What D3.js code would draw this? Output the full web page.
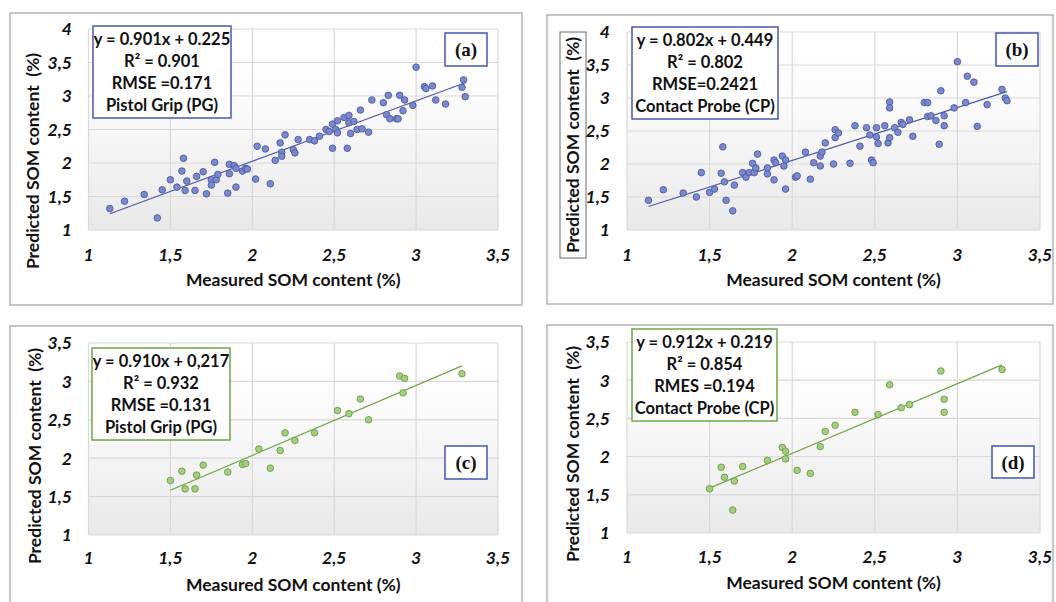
<!DOCTYPE html>
<html>
<head>
<meta charset="utf-8">
<script src="https://cdn.jsdelivr.net/npm/d3@7"></script>
<style>
  body { margin: 0; background: #fff; }
  svg { display: block; }
  text { font-family: Lato, "Open Sans", sans-serif; fill: #111; }
</style>
</head>
<body>
<svg id="chart"></svg>
<script>
// ---- data ----
const aX = [1.13,1.22,1.34,1.42,1.45,1.50,1.54,1.57,1.58,1.59,1.60,1.65,1.66,1.70,1.72,1.75,1.75,1.77,1.78,1.79,1.85,1.86,1.86,1.89,1.90,1.90,1.94,1.96,1.97,2.02,2.03,2.08,2.11,2.14,2.17,2.18,2.18,2.20,2.25,2.26,2.28,2.35,2.38,2.41,2.45,2.47,2.49,2.49,2.51,2.52,2.52,2.56,2.58,2.59,2.59,2.60,2.62,2.64,2.66,2.67,2.71,2.73,2.80,2.82,2.83,2.84,2.88,2.89,2.90,2.92,2.93,2.98,3.00,3.05,3.06,3.10,3.12,3.18,3.28,3.29,3.30];
const aY = [1.32,1.43,1.53,1.18,1.60,1.75,1.64,1.88,2.07,1.59,1.73,1.59,1.80,1.87,1.54,1.75,1.67,2.01,1.75,1.83,1.55,1.98,1.84,1.96,1.64,1.92,1.88,1.92,1.91,1.76,2.25,2.21,1.69,2.04,2.30,2.16,2.10,2.42,2.20,2.15,2.35,2.35,2.33,2.40,2.50,2.47,2.22,2.58,2.50,2.63,2.45,2.68,2.22,2.71,2.60,2.44,2.62,2.50,2.79,2.51,2.46,2.94,2.90,2.72,3.01,2.66,2.66,2.66,3.01,2.78,2.94,2.86,3.43,3.14,3.11,3.15,2.94,2.88,3.13,3.24,2.99];

const bX = [1.13,1.22,1.34,1.42,1.45,1.50,1.53,1.57,1.58,1.59,1.60,1.64,1.65,1.70,1.72,1.74,1.76,1.77,1.78,1.79,1.85,1.85,1.89,1.89,1.90,1.94,1.95,1.96,1.96,2.02,2.03,2.08,2.11,2.13,2.17,2.17,2.18,2.20,2.25,2.26,2.26,2.28,2.35,2.38,2.41,2.45,2.47,2.48,2.49,2.51,2.51,2.52,2.56,2.58,2.59,2.59,2.59,2.62,2.64,2.66,2.67,2.71,2.73,2.80,2.82,2.82,2.84,2.87,2.89,2.90,2.92,2.92,2.98,3.00,3.05,3.06,3.10,3.12,3.18,3.27,3.29,3.30];
const bY = [1.45,1.61,1.56,1.50,1.87,1.57,1.62,1.86,2.26,1.73,1.45,1.29,1.68,1.87,1.80,1.87,2.01,1.87,1.94,2.15,1.85,1.94,2.06,1.76,2.02,2.12,1.97,2.06,1.62,1.80,1.82,2.18,1.77,2.02,1.97,2.12,2.18,2.32,2.00,2.40,2.52,2.47,2.01,2.58,2.27,2.55,2.44,2.06,2.02,2.41,2.55,2.31,2.58,2.32,2.94,2.85,2.40,2.55,2.48,2.63,2.60,2.67,2.42,2.93,2.93,2.72,2.73,2.66,2.30,3.11,2.73,2.58,2.85,3.55,2.93,3.33,3.24,2.57,2.90,3.13,3.00,2.96];

const cX = [1.50,1.57,1.59,1.65,1.66,1.70,1.85,1.94,1.96,2.04,2.11,2.17,2.20,2.26,2.38,2.52,2.59,2.66,2.71,2.90,2.93,2.92,3.28];
const cY = [1.71,1.83,1.60,1.60,1.78,1.91,1.82,1.92,1.93,2.12,1.87,2.10,2.33,2.23,2.33,2.62,2.58,2.77,2.50,3.07,3.04,2.85,3.10];

const dX = [1.50,1.57,1.59,1.64,1.65,1.70,1.85,1.94,1.96,1.96,2.03,2.11,2.17,2.20,2.26,2.38,2.52,2.59,2.66,2.71,2.90,2.92,2.92,3.27];
const dY = [1.58,1.86,1.73,1.30,1.68,1.87,1.95,2.12,2.07,1.97,1.82,1.78,2.13,2.33,2.41,2.58,2.55,2.94,2.64,2.68,3.12,2.75,2.58,3.14];

const slopes = [0.901, 0.802, 0.910, 0.912];
const intercepts = [0.225, 0.449, 0.217, 0.219];

const xTicks = [1, 1.5, 2, 2.5, 3, 3.5];
const yTicksTop = [1, 1.5, 2, 2.5, 3, 3.5, 4];
const yTicksBottom = [1, 1.5, 2, 2.5, 3, 3.5];

const legendA = ["y = 0.901x + 0.225", "R² = 0.901", "RMSE =0.171", "Pistol Grip (PG)"];
const legendB = ["y = 0.802x + 0.449", "R² = 0.802", "RMSE=0.2421", "Contact Probe (CP)"];
const legendC = ["y = 0.910x + 0,217", "R² = 0.932", "RMSE =0.131", "Pistol Grip (PG)"];
const legendD = ["y = 0.912x + 0.219", "R² = 0.854", "RMES =0.194", "Contact Probe (CP)"];
const panelLabels = ["(a)", "(b)", "(c)", "(d)"];

const xTitle = "Measured SOM content (%)";
const yTitle = "Predicted SOM content  (%)";

// ---- layout ----
const width = 1056, height = 602;
const blue = { fill: "#7c88cc", stroke: "#4b5aa6", line: "#4a5aa8", box: "#4a5aa8" };
const green = { fill: "#a4cc84", stroke: "#6c9e42", line: "#6fa548", box: "#6fa548" };

const panels = [
  { xs: aX, ys: aY, k: 0, legend: legendA, col: blue, yTicks: yTicksTop,
    frame: [10, 13, 512, 292], plot: [88.5, 29, 498, 230],
    leg: [93, 26, 138, 92], lab: [445, 33, 42, 33], yt: [33, 161], tickR: 72,
    xTickY: 261, xTitleY: 286, yBox: null },
  { xs: bX, ys: bY, k: 1, legend: legendB, col: blue, yTicks: yTicksTop,
    frame: [547, 15, 506, 289], plot: [627, 32, 1040, 230],
    leg: [632, 27, 146, 92], lab: [996, 33, 42, 33], yt: [573, 145], tickR: 610,
    xTickY: 261, xTitleY: 286, yBox: [560, 32, 26, 226] },
  { xs: cX, ys: cY, k: 2, legend: legendC, col: green, yTicks: yTicksBottom,
    frame: [10, 326, 512, 300], plot: [88.5, 343, 498, 535],
    leg: [92, 348, 138, 92], lab: [445, 446, 42, 33], yt: [35, 456], tickR: 72,
    xTickY: 564, xTitleY: 591, yBox: null },
  { xs: dX, ys: dY, k: 3, legend: legendD, col: green, yTicks: yTicksBottom,
    frame: [547, 325, 506, 300], plot: [627, 342, 1040, 533],
    leg: [632, 329, 145, 92], lab: [992, 446, 42, 32], yt: [573, 454], tickR: 610,
    xTickY: 563, xTitleY: 589, yBox: null }
];

const svg = d3.select("#chart").attr("width", width).attr("height", height);

// plot area gradient
const grad = svg.append("defs").append("linearGradient")
  .attr("id", "bg").attr("x1", 0).attr("y1", 0).attr("x2", 0).attr("y2", 1);
grad.append("stop").attr("offset", "0%").attr("stop-color", "#ffffff");
grad.append("stop").attr("offset", "35%").attr("stop-color", "#fbfbfb");
grad.append("stop").attr("offset", "100%").attr("stop-color", "#e9e9e9");

panels.forEach((p, i) => {
  const g = svg.append("g");
  const [fx, fy, fw, fh] = p.frame;
  g.append("rect").attr("x", fx).attr("y", fy).attr("width", fw).attr("height", fh)
    .attr("fill", "#fff").attr("stroke", "#a9a9a9").attr("stroke-width", 1.3);

  const [l, t, r, b] = p.plot;
  const x = d3.scaleLinear().domain([1, 3.5]).range([l, r]);
  const y = d3.scaleLinear().domain(d3.extent(p.yTicks)).range([b, t]);

  g.append("rect").attr("x", l).attr("y", t).attr("width", r - l).attr("height", b - t)
    .attr("fill", "url(#bg)");

  // grid
  g.selectAll(".gx").data(xTicks).enter().append("line")
    .attr("x1", d => x(d)).attr("x2", d => x(d)).attr("y1", t).attr("y2", b)
    .attr("stroke", "#d9d9d9").attr("stroke-width", 1.2);
  g.selectAll(".gy").data(p.yTicks).enter().append("line")
    .attr("x1", l).attr("x2", r).attr("y1", d => y(d)).attr("y2", d => y(d))
    .attr("stroke", "#d9d9d9").attr("stroke-width", 1.2);

  // tick labels
  const fmt = d => String(d).replace(".", ",");
  g.selectAll(".tx").data(xTicks).enter().append("text")
    .attr("x", d => x(d)).attr("y", p.xTickY).attr("text-anchor", "middle")
    .attr("font-size", 17.5).attr("font-weight", 700).attr("font-style", "italic")
    .text(fmt);
  g.selectAll(".ty").data(p.yTicks).enter().append("text")
    .attr("x", p.tickR).attr("y", d => y(d)).attr("dy", "0.36em").attr("text-anchor", "end")
    .attr("font-size", 17.5).attr("font-weight", 700).attr("font-style", "italic")
    .text(fmt);

  // axis titles
  g.append("text").attr("x", x(2.25)).attr("y", p.xTitleY).attr("text-anchor", "middle")
    .attr("font-size", 17.5).attr("font-weight", 700).text(xTitle);
  if (p.yBox) {
    g.append("rect").attr("x", p.yBox[0]).attr("y", p.yBox[1])
      .attr("width", p.yBox[2]).attr("height", p.yBox[3])
      .attr("fill", "none").attr("stroke", "#6b6b6b").attr("stroke-width", 1);
  }
  g.append("text")
    .attr("transform", `translate(${p.yt[0]},${p.yt[1]}) rotate(-90)`)
    .attr("text-anchor", "middle").attr("dy", "0.36em")
    .attr("font-size", 17.5).attr("font-weight", 700).attr("xml:space", "preserve")
    .text(yTitle);

  // trend line from the fitted equation over the data range
  const ext = d3.extent(p.xs);
  const fit = ext.map(v => [v, slopes[p.k] * v + intercepts[p.k]]);
  g.append("path").datum(fit)
    .attr("d", d3.line().x(d => x(d[0])).y(d => y(d[1])))
    .attr("fill", "none").attr("stroke", p.col.line).attr("stroke-width", 1.2);

  // points
  g.selectAll(".pt").data(p.xs).enter().append("circle")
    .attr("cx", d => x(d)).attr("cy", (d, j) => y(p.ys[j])).attr("r", 3.3)
    .attr("fill", p.col.fill).attr("stroke", p.col.stroke).attr("stroke-width", 0.9);

  // equation box
  const [lx, ly, lw, lh] = p.leg;
  g.append("rect").attr("x", lx).attr("y", ly).attr("width", lw).attr("height", lh)
    .attr("fill", "#fff").attr("stroke", p.col.box).attr("stroke-width", 1.5);
  g.selectAll(".lg").data(p.legend).enter().append("text")
    .attr("x", lx + lw / 2).attr("y", (d, j) => ly + 13 + j * 22).attr("dy", "0.36em")
    .attr("text-anchor", "middle").attr("font-size", 16.5).attr("font-weight", 700)
    .text(d => d);

  // panel label
  const [bx, by, bw, bh] = p.lab;
  g.append("rect").attr("x", bx).attr("y", by).attr("width", bw).attr("height", bh)
    .attr("fill", "#fff").attr("stroke", "#4455b0").attr("stroke-width", 1.5);
  g.append("text").attr("x", bx + bw / 2).attr("y", by + bh / 2).attr("dy", "0.35em")
    .attr("text-anchor", "middle").attr("font-size", 19).attr("font-weight", 700)
    .style("font-family", "'Liberation Serif', 'DejaVu Serif', serif")
    .text(panelLabels[i]);
});
</script>
</body>
</html>
